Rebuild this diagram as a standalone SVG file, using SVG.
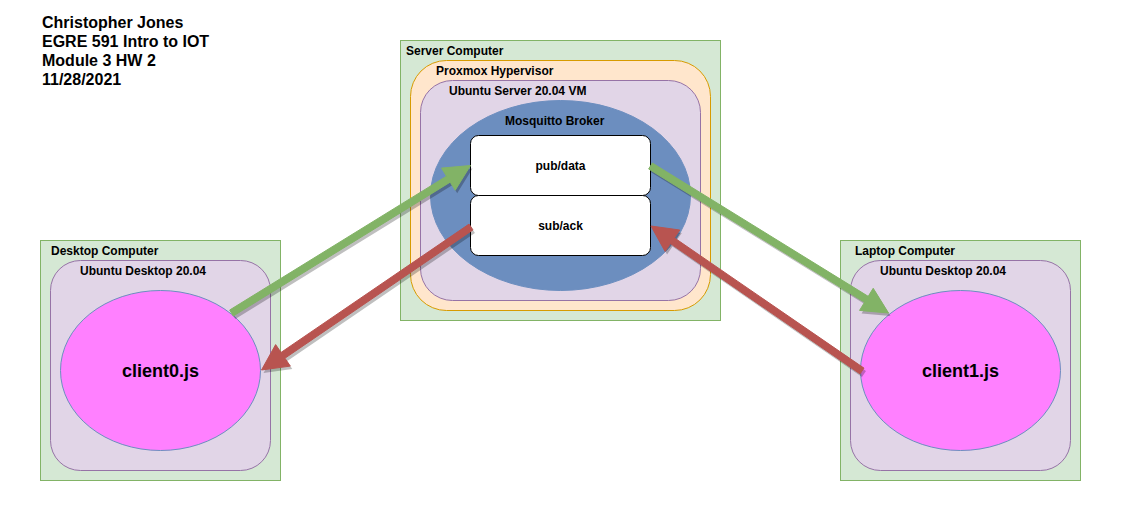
<svg xmlns="http://www.w3.org/2000/svg" width="1121" height="522" viewBox="0 0 1121 522">
<style>
text{font-family:"Liberation Sans",Arial,Helvetica,sans-serif;font-weight:bold;fill:#000}
.lbl{font-size:12px}
.ttl{font-size:16px}
.big{font-size:18px;text-anchor:middle}
.mid{text-anchor:middle}
.comp{fill:#d5e8d4;stroke:#82b366;stroke-width:1}
.os{fill:#e1d5e7;stroke:#9673a6;stroke-width:1}
.hyp{fill:#ffe6cc;stroke:#d79b00;stroke-width:1}
.broker{fill:#6c8ebf;stroke:#6c8ebf;stroke-width:1}
.client{fill:#ff80ff;stroke:#6c8ebf;stroke-width:1}
.topic{fill:#ffffff;stroke:#000000;stroke-width:1}
.green{fill:#82b366;stroke:#82b366;stroke-width:1;stroke-linejoin:round}
.red{fill:#b85450;stroke:#b85450;stroke-width:1;stroke-linejoin:round}
.shadow{fill:#000;opacity:0.25}
</style>
<rect width="1121" height="522" fill="#ffffff"/>
<g id="title">
<text class="ttl" x="42" y="28">Christopher Jones</text>
<text class="ttl" x="42" y="47">EGRE 591 Intro to IOT</text>
<text class="ttl" x="42" y="66">Module 3 HW 2</text>
<text class="ttl" x="42" y="85">11/28/2021</text>
</g>
<g id="server-computer">
<rect class="comp" x="400.5" y="40.5" width="320" height="280"/>
<text class="lbl" x="406" y="55">Server Computer</text>
</g>
<g id="proxmox">
<rect class="hyp" x="410.5" y="60.5" width="300" height="250" rx="36" ry="36"/>
<text class="lbl" x="436" y="75">Proxmox Hypervisor</text>
</g>
<g id="ubuntu-server">
<rect class="os" x="420.5" y="80.5" width="280" height="220" rx="32" ry="32"/>
<text class="lbl" x="449" y="95">Ubuntu Server 20.04 VM</text>
</g>
<g id="mosquitto">
<ellipse class="broker" cx="560.5" cy="195.5" rx="130" ry="95"/>
<text class="lbl" x="505" y="125">Mosquitto Broker</text>
</g>
<g id="pub-data">
<rect class="topic" x="470.5" y="135.5" width="180" height="60" rx="8" ry="8"/>
<text class="lbl mid" x="560.5" y="170">pub/data</text>
</g>
<g id="sub-ack">
<rect class="topic" x="470.5" y="195.5" width="180" height="60" rx="8" ry="8"/>
<text class="lbl mid" x="560.5" y="230">sub/ack</text>
</g>
<g id="desktop-computer">
<rect class="comp" x="40.5" y="240.5" width="240" height="240"/>
<text class="lbl" x="51" y="255">Desktop Computer</text>
</g>
<g id="desktop-os">
<rect class="os" x="50.5" y="260.5" width="220" height="210" rx="30" ry="30"/>
<text class="lbl" x="80" y="275">Ubuntu Desktop 20.04</text>
</g>
<g id="client0">
<ellipse class="client" cx="160.5" cy="370.5" rx="100" ry="80"/>
<text class="big" x="160.5" y="377">client0.js</text>
</g>
<g id="laptop-computer">
<rect class="comp" x="840.5" y="240.5" width="240" height="240"/>
<text class="lbl" x="855" y="255">Laptop Computer</text>
</g>
<g id="laptop-os">
<rect class="os" x="850.5" y="260.5" width="220" height="210" rx="30" ry="30"/>
<text class="lbl" x="880" y="275">Ubuntu Desktop 20.04</text>
</g>
<g id="client1">
<ellipse class="client" cx="960.5" cy="370.5" rx="100" ry="80"/>
<text class="big" x="960.5" y="377">client1.js</text>
</g>
<g id="connectors">
<g transform="translate(2,3)">
<polygon class="shadow" points="229.66,310.02 446.53,176.18 441.54,168.10 470.5,165.5 455.20,190.22 450.21,182.14 233.34,315.98"/>
<polygon class="shadow" points="469.03,224.11 281.00,352.45 275.64,344.60 261.5,370 290.30,366.08 284.94,358.23 472.97,229.89"/>
<polygon class="shadow" points="652.34,163.02 868.22,296.36 873.21,288.28 888.5,313 859.55,310.40 864.54,302.32 648.66,168.98"/>
<polygon class="shadow" points="863.98,368.12 674.41,237.85 679.79,230.02 651,226 665.07,251.44 670.45,243.61 860.02,373.88"/>
</g>
<polygon id="client0-to-pubdata" class="green" points="229.66,310.02 446.53,176.18 441.54,168.10 470.5,165.5 455.20,190.22 450.21,182.14 233.34,315.98"/>
<polygon id="suback-to-client0" class="red" points="469.03,224.11 281.00,352.45 275.64,344.60 261.5,370 290.30,366.08 284.94,358.23 472.97,229.89"/>
<polygon id="pubdata-to-client1" class="green" points="652.34,163.02 868.22,296.36 873.21,288.28 888.5,313 859.55,310.40 864.54,302.32 648.66,168.98"/>
<polygon id="client1-to-suback" class="red" points="863.98,368.12 674.41,237.85 679.79,230.02 651,226 665.07,251.44 670.45,243.61 860.02,373.88"/>
</g>
</svg>
